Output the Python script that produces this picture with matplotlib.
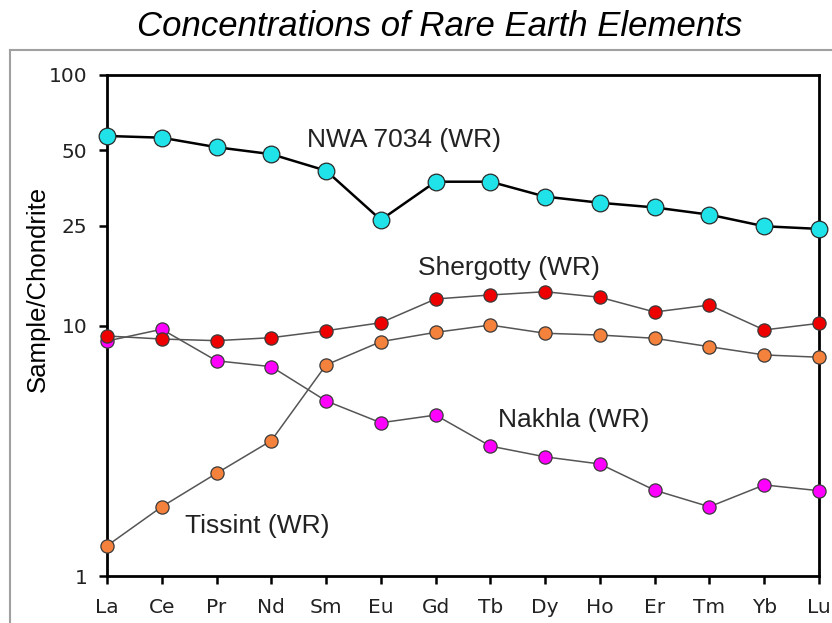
#!/usr/bin/env python3
import numpy as np
import matplotlib
matplotlib.use("Agg")
import matplotlib.pyplot as plt
from matplotlib.lines import Line2D
from matplotlib.ticker import FixedLocator, NullLocator

# rare earth elements, chondrite-normalised
elements = ["La", "Ce", "Pr", "Nd", "Sm", "Eu", "Gd", "Tb", "Dy", "Ho", "Er", "Tm", "Yb", "Lu"]

nwa_7034 = [57.1, 56.2, 51.5, 48.3, 41.5, 26.4, 37.5, 37.5, 32.7, 30.9, 29.6, 27.7, 24.9, 24.3]
shergotty = [9.08, 8.83, 8.70, 8.94, 9.53, 10.26, 12.76, 13.24, 13.64, 12.96, 11.32, 12.07, 9.60, 10.20]
nakhla = [8.67, 9.66, 7.23, 6.85, 5.00, 4.09, 4.39, 3.30, 2.99, 2.80, 2.20, 1.89, 2.31, 2.19]
tissint = [1.32, 1.89, 2.57, 3.47, 6.96, 8.62, 9.39, 10.04, 9.31, 9.16, 8.89, 8.23, 7.63, 7.47]

y_ticks = [1, 10, 25, 50, 100]

TEXT_FONT = ["Liberation Sans", "DejaVu Sans"]
TICK_FONT = ["DejaVu Sans"]


def main():
    W, H = 832, 623
    fig = plt.figure(figsize=(W / 100, H / 100), dpi=100)
    fig.patch.set_facecolor("white")

    # axes box in pixels: left 107, right 819, top 75, bottom 576
    ax = fig.add_axes([107 / W, 1 - 576 / H, (819 - 107) / W, (576 - 75) / H])

    x = np.arange(len(elements))

    ax.plot(x, tissint, "-o", color="#555555", lw=1.1, ms=9.5,
            mfc="#F5823C", mec="#3a3a3a", mew=0.9, clip_on=False, zorder=5)
    ax.plot(x, nakhla, "-o", color="#555555", lw=1.1, ms=9.5,
            mfc="#FF00FF", mec="#3a3a3a", mew=0.9, clip_on=False, zorder=5)
    ax.plot(x, shergotty, "-o", color="#555555", lw=1.1, ms=9.5,
            mfc="#EE0000", mec="#3a3a3a", mew=0.9, clip_on=False, zorder=6)
    ax.plot(x, nwa_7034, "-o", color="black", lw=1.8, ms=12,
            mfc="#1FE3E8", mec="#2a2a2a", mew=0.9, clip_on=False, zorder=7)

    ax.set_yscale("log")
    ax.set_ylim(1, 100)
    ax.set_xlim(0, len(elements) - 1)
    ax.yaxis.set_major_locator(FixedLocator(y_ticks))
    ax.yaxis.set_minor_locator(NullLocator())
    ax.set_yticklabels([str(v) for v in y_ticks], family=TICK_FONT, fontsize=14.5, color="#222222")
    ax.set_xticks(x)
    ax.set_xticklabels(elements, family=TICK_FONT, fontsize=14.5, color="#222222")

    ax.tick_params(axis="both", direction="out", length=6, width=1.8, color="black")
    ax.tick_params(axis="y", pad=8)
    ax.tick_params(axis="x", pad=10)
    for s in ax.spines.values():
        s.set_linewidth(2)
        s.set_color("black")

    # series labels
    ax.text(3.65, 51.6, "NWA 7034 (WR)", family=TEXT_FONT, fontsize=19, va="baseline", color="#222222")
    ax.text(5.68, 15.9, "Shergotty (WR)", family=TEXT_FONT, fontsize=19, va="baseline", color="#222222")
    ax.text(7.14, 3.93, "Nakhla (WR)", family=TEXT_FONT, fontsize=19, va="baseline", color="#222222")
    ax.text(1.42, 1.485, "Tissint (WR)", family=TEXT_FONT, fontsize=19, va="baseline", color="#222222")

    fig.text(38 / W, 1 - 289 / H, "Sample/Chondrite", family=TEXT_FONT, fontsize=18.5,
             rotation=90, ha="center", va="center")
    fig.text(440 / W, 1 - 26 / H, "Concentrations of Rare Earth Elements", family=TEXT_FONT,
             fontsize=25, style="italic", ha="center", va="center")

    # grey outer frame (open to the right and bottom)
    fx, fy = 10 / W, 1 - 50 / H
    fig.add_artist(Line2D([fx, fx], [0, fy], transform=fig.transFigure, color="#a0a0a0", lw=1.5))
    fig.add_artist(Line2D([fx, 1], [fy, fy], transform=fig.transFigure, color="#a0a0a0", lw=1.5))

    fig.savefig("out.png", dpi=100)
    plt.close(fig)


if __name__ == "__main__":
    main()
